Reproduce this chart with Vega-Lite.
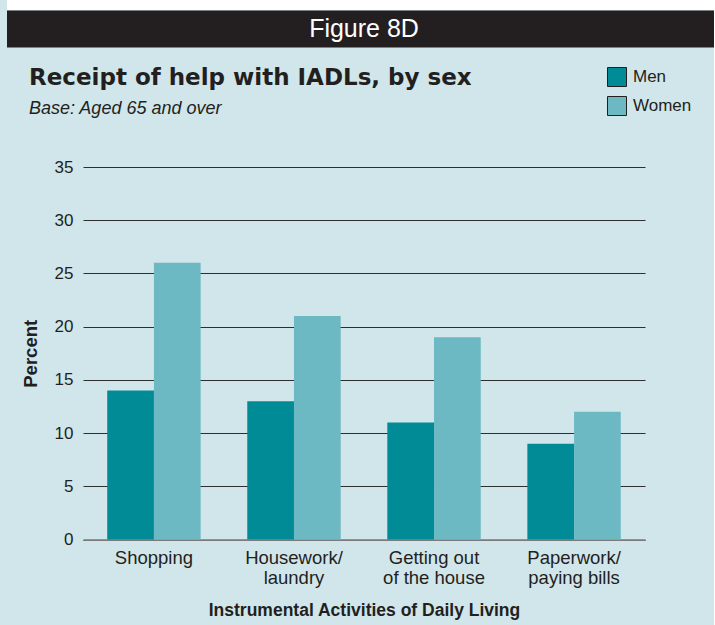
{
  "$schema": "https://vega.github.io/schema/vega-lite/v6.json",
  "background": "#d0e6ea",
  "padding": {"left": -12, "top": 0, "right": 0, "bottom": 12},
  "bounds": "flush",
  "spacing": 120,
  "config": {
    "font": "Liberation Sans",
    "view": {"stroke": null}
  },
  "vconcat": [
    {
      "width": 631,
      "height": 47,
      "data": {"values": [{"fig": "Figure 8D"}]},
      "mark": {"type": "text", "color": "#ffffff", "fontSize": 25, "font": "Liberation Sans", "dx": -34.5, "baseline": "middle"},
      "encoding": {
        "text": {"field": "fig"},
        "y": {
          "datum": 18.5,
          "type": "quantitative",
          "scale": {"domain": [0, 47], "nice": false, "zero": false},
          "axis": {
            "title": null,
            "labels": false,
            "domain": false,
            "translate": 0,
            "values": [18.5, 42],
            "ticks": true,
            "tickSize": 76,
            "tickCap": "butt",
            "tickWidth": {"condition": {"test": "datum.value > 30", "value": 10}, "value": 37},
            "tickColor": {"condition": {"test": "datum.value > 30", "value": "#ffffff"}, "value": "#231f20"},
            "grid": true,
            "gridCap": "butt",
            "gridWidth": {"condition": {"test": "datum.value > 30", "value": 10}, "value": 37},
            "gridColor": {"condition": {"test": "datum.value > 30", "value": "#ffffff"}, "value": "#231f20"},
            "gridOpacity": 1
          }
        }
      }
    },
    {
      "width": 562,
      "height": 372.6,
      "title": {
        "text": "Receipt of help with IADLs, by sex",
        "subtitle": "Base: Aged 65 and over",
        "anchor": "start",
        "frame": "group",
        "dx": -54,
        "offset": 40,
        "fontSize": 23,
        "fontWeight": "bold",
        "font": "DejaVu Sans",
        "color": "#231f20",
        "subtitleFont": "Liberation Sans",
        "subtitleFontSize": 18,
        "subtitleFontStyle": "italic",
        "subtitleColor": "#231f20",
        "subtitlePadding": 10
      },
      "data": {
        "values": [
          {"activity": "Shopping", "sex": "Men", "percent": 14},
          {"activity": "Shopping", "sex": "Women", "percent": 26},
          {"activity": "Housework/laundry", "sex": "Men", "percent": 13},
          {"activity": "Housework/laundry", "sex": "Women", "percent": 21},
          {"activity": "Getting out of the house", "sex": "Men", "percent": 11},
          {"activity": "Getting out of the house", "sex": "Women", "percent": 19},
          {"activity": "Paperwork/paying bills", "sex": "Men", "percent": 9},
          {"activity": "Paperwork/paying bills", "sex": "Women", "percent": 12}
        ]
      },
      "mark": {"type": "bar"},
      "encoding": {
        "x": {
          "field": "activity",
          "type": "nominal",
          "sort": ["Shopping", "Housework/laundry", "Getting out of the house", "Paperwork/paying bills"],
          "scale": {"paddingInner": 0.333, "paddingOuter": 0.173},
          "axis": {
            "title": "Instrumental Activities of Daily Living",
            "titleFontSize": 17.5,
            "titleFontWeight": "bold",
            "titleColor": "#231f20",
            "titlePadding": 14,
            "labelAngle": 0,
            "labelFontSize": 18.5,
            "labelColor": "#231f20",
            "labelPadding": 9,
            "labelLineHeight": 20,
            "labelBaseline": "top",
            "labelExpr": "datum.value == 'Housework/laundry' ? ['Housework/', 'laundry'] : datum.value == 'Getting out of the house' ? ['Getting out', 'of the house'] : datum.value == 'Paperwork/paying bills' ? ['Paperwork/', 'paying bills'] : datum.value",
            "ticks": false,
            "domain": true,
            "domainColor": "#7a7a7a",
            "domainWidth": 1.6,
            "grid": false
          }
        },
        "xOffset": {
          "field": "sex",
          "type": "nominal",
          "scale": {"paddingInner": 0, "paddingOuter": 0}
        },
        "y": {
          "field": "percent",
          "type": "quantitative",
          "scale": {"domain": [0, 35], "nice": false},
          "axis": {
            "title": "Percent",
            "titleFontSize": 18.5,
            "titleFontWeight": "bold",
            "titleColor": "#231f20",
            "titlePadding": 14,
            "values": [0, 5, 10, 15, 20, 25, 30, 35],
            "labelFontSize": 17,
            "labelColor": "#231f20",
            "labelPadding": 10,
            "ticks": false,
            "domain": false,
            "grid": true,
            "gridColor": "#2e2e2e",
            "gridWidth": 1.2
          }
        },
        "color": {
          "field": "sex",
          "type": "nominal",
          "scale": {"domain": ["Men", "Women"], "range": ["#008b96", "#6cb9c3"]},
          "legend": {
            "title": null,
            "orient": "none",
            "legendX": 524,
            "legendY": 67,
            "symbolType": "square",
            "symbolSize": 361,
            "symbolStrokeColor": "#231f20",
            "symbolStrokeWidth": 1,
            "symbolOpacity": 1,
            "labelFontSize": 17,
            "labelColor": "#231f20",
            "labelOffset": 6,
            "rowPadding": 5,
            "padding": 0
          }
        }
      }
    }
  ]
}
